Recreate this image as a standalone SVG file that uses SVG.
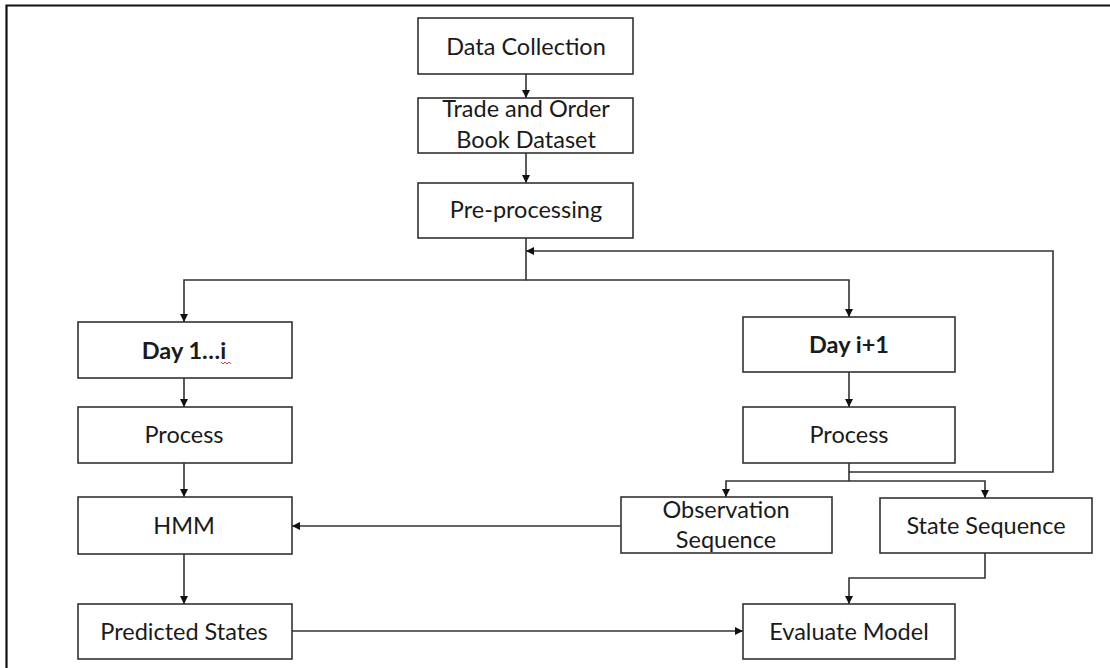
<svg xmlns="http://www.w3.org/2000/svg" width="1110" height="668" viewBox="0 0 1110 668">
  <defs>
    <marker id="arrow" viewBox="0 0 10 10" refX="10" refY="5" markerWidth="8" markerHeight="8" markerUnits="userSpaceOnUse" orient="auto">
      <path d="M0,0 L10,5 L0,10 Z" fill="#111"/>
    </marker>
    <style>
      .box { fill: #fff; stroke: #333; stroke-width: 1.6; }
      .lbl { font-family: Lato, "Open Sans", "Liberation Sans", sans-serif; font-size: 23.5px; fill: #1a1a1a; text-anchor: middle; }
      .bold { font-weight: bold; }
      .edge { fill: none; stroke: #333; stroke-width: 1.6; }
      .frame { fill: none; stroke: #111; stroke-width: 2.2; }
    </style>
  </defs>

  <rect x="0" y="0" width="1110" height="668" fill="#fff"/>
  <!-- page frame: top and left rules only -->
  <polyline class="frame" points="6.5,668 6.5,5.5 1110,5.5"/>

  <g id="connectors">
    <line class="edge" x1="526" y1="74" x2="526" y2="98" marker-end="url(#arrow)"/>
    <line class="edge" x1="526" y1="153" x2="526" y2="183" marker-end="url(#arrow)"/>
    <!-- split after pre-processing -->
    <polyline class="edge" points="526,238 526,280 184,280 184,322" marker-end="url(#arrow)"/>
    <polyline class="edge" points="526,280 849,280 849,317" marker-end="url(#arrow)"/>
    <!-- left branch -->
    <line class="edge" x1="184" y1="378" x2="184" y2="407" marker-end="url(#arrow)"/>
    <line class="edge" x1="184" y1="463" x2="184" y2="497" marker-end="url(#arrow)"/>
    <line class="edge" x1="184" y1="554" x2="184" y2="604" marker-end="url(#arrow)"/>
    <!-- right branch -->
    <line class="edge" x1="849" y1="372" x2="849" y2="407" marker-end="url(#arrow)"/>
    <polyline class="edge" points="849,463 849,481 726,481 726,497" marker-end="url(#arrow)"/>
    <polyline class="edge" points="849,481 985,481 985,498" marker-end="url(#arrow)"/>
    <!-- feedback loop back to pre-processing -->
    <polyline class="edge" points="849,472 1053,472 1053,251 526,251" marker-end="url(#arrow)"/>
    <!-- observation sequence into HMM -->
    <line class="edge" x1="621" y1="526" x2="292" y2="526" marker-end="url(#arrow)"/>
    <!-- state sequence into evaluation -->
    <polyline class="edge" points="985,553 985,578 849,578 849,604" marker-end="url(#arrow)"/>
    <!-- predicted states into evaluation -->
    <line class="edge" x1="292" y1="631" x2="743" y2="631" marker-end="url(#arrow)"/>
  </g>

  <g id="data-collection">
    <rect class="box" x="418" y="18" width="215" height="56"/>
    <text class="lbl" x="526" y="54.5">Data Collection</text>
  </g>
  <g id="dataset">
    <rect class="box" x="418" y="98" width="215" height="55"/>
    <text class="lbl" x="526" y="117">Trade and Order</text>
    <text class="lbl" x="526" y="147.5">Book Dataset</text>
  </g>
  <g id="pre-processing">
    <rect class="box" x="418" y="183" width="215" height="55"/>
    <text class="lbl" x="526" y="218">Pre-processing</text>
  </g>

  <g id="day-1-i">
    <rect class="box" x="78" y="322" width="214" height="56"/>
    <text class="lbl bold" x="184" y="359">Day 1…i</text>
    <path d="M221,362 l2,2 l2,-2 l2,2 l2,-2 l2,2" fill="none" stroke="#d23" stroke-width="0.9"/>
  </g>
  <g id="process-left">
    <rect class="box" x="78" y="407" width="214" height="56"/>
    <text class="lbl" x="184" y="443">Process</text>
  </g>
  <g id="hmm">
    <rect class="box" x="78" y="497" width="214" height="57"/>
    <text class="lbl" x="184" y="533.5">HMM</text>
  </g>
  <g id="predicted-states">
    <rect class="box" x="78" y="604" width="214" height="55"/>
    <text class="lbl" x="184" y="639.5">Predicted States</text>
  </g>

  <g id="day-i-plus-1">
    <rect class="box" x="743" y="317" width="212" height="55"/>
    <text class="lbl bold" x="849" y="353">Day i+1</text>
  </g>
  <g id="process-right">
    <rect class="box" x="743" y="407" width="212" height="56"/>
    <text class="lbl" x="849" y="443">Process</text>
  </g>
  <g id="observation-sequence">
    <rect class="box" x="621" y="497" width="211" height="56"/>
    <text class="lbl" x="726" y="518">Observation</text>
    <text class="lbl" x="726" y="548">Sequence</text>
  </g>
  <g id="state-sequence">
    <rect class="box" x="880" y="498" width="212" height="55"/>
    <text class="lbl" x="986" y="533.5">State Sequence</text>
  </g>
  <g id="evaluate-model">
    <rect class="box" x="743" y="604" width="212" height="55"/>
    <text class="lbl" x="849" y="639.5">Evaluate Model</text>
  </g>
</svg>
